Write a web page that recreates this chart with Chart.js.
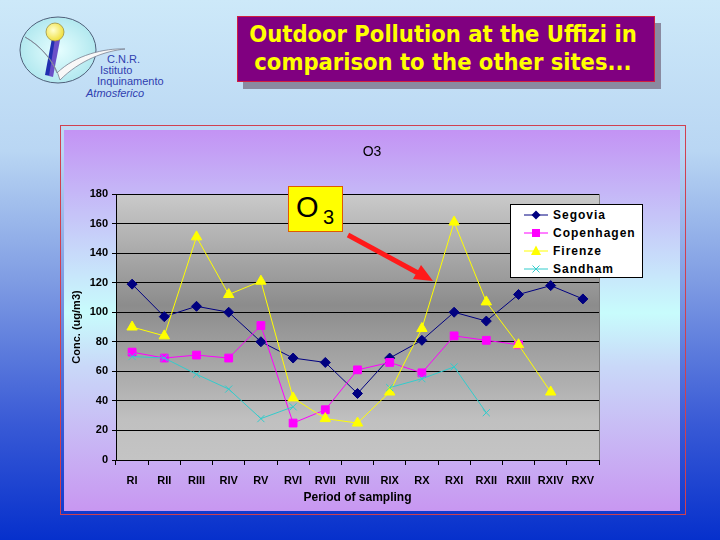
<!DOCTYPE html>
<html lang="en">
<head>
  <meta charset="UTF-8" />
  <title>O3 - Outdoor Pollution</title>
  <script src="https://cdn.jsdelivr.net/npm/chart.js"></script>
  <style>
    html, body { margin: 0; padding: 0; }
    body {
      width: 720px; height: 540px; position: relative; overflow: hidden;
      background: linear-gradient(to bottom, #cde9f9 0%, #b9d6f3 28%, #7f9ce3 52%, #3a5bd6 78%, #0630cc 100%);
      font-family: 'Liberation Sans', Arial, sans-serif;
    }
    #titleShadow { position: absolute; left: 243px; top: 23px; width: 418px; height: 66px; background: #8a8aa0; }
    #titleBox {
      position: absolute; left: 237px; top: 16px; width: 418px; height: 66px; box-sizing: border-box;
      background: #800080; border: 1px solid #d02040; color: #ffff00;
      font-family: 'Comic Sans MS', 'DejaVu Sans Condensed', 'DejaVu Sans', sans-serif;
      font-weight: bold; font-size: 23.5px; line-height: 28px; text-align: center;
      padding-top: 3px; padding-right: 6px; white-space: nowrap;
    }
    #frame { position: absolute; left: 60px; top: 125px; width: 624px; height: 388px; border: 1px solid #d04050; }
    #panel {
      position: absolute; left: 64px; top: 130px; width: 616px; height: 381px;
      background: linear-gradient(to bottom, #c393f4 0%, #c8e6fb 38%, #c8fcfc 48%, #c9d8f8 62%, #c897f1 100%);
    }
    #chart { position: absolute; left: 64px; top: 130px; }
    #callout {
      position: absolute; left: 288px; top: 186px; width: 55px; height: 46px; box-sizing: border-box;
      background: #ffff00; border: 1px solid #e05a00; color: #000;
      font-family: 'Liberation Sans', Arial, sans-serif;
    }
    #callout .o { position: absolute; left: 7px; top: 4px; font-size: 29px; line-height: 32px; }
    #callout .s { position: absolute; left: 34px; top: 19px; font-size: 20px; line-height: 22px; }
    #legend {
      position: absolute; left: 510px; top: 204px; width: 133px; height: 74px; box-sizing: border-box;
      background: #fff; border: 1px solid #000; padding-top: 1px;
    }
    #legend .row { height: 18px; display: flex; align-items: center; }
    #legend svg { margin-left: 13px; margin-right: 5px; }
    #legend span { font-weight: bold; font-size: 12px; letter-spacing: 1px; color: #000; }
    #logo, #arrow { position: absolute; left: 0; top: 0; }
  </style>
</head>
<body>
  <svg id="logo" width="200" height="110">
    <defs>
      <radialGradient id="disc" cx="0.5" cy="0.5" r="0.6">
        <stop offset="0" stop-color="#e6feff" />
        <stop offset="1" stop-color="#a8e4ec" />
      </radialGradient>
      <radialGradient id="sun" cx="0.4" cy="0.4" r="0.6">
        <stop offset="0" stop-color="#ffffd0" />
        <stop offset="1" stop-color="#f0e040" />
      </radialGradient>
    </defs>
    <ellipse cx="58" cy="50" rx="38" ry="33" fill="url(#disc)" stroke="#50607a" stroke-width="1" />
    <path d="M52 38 L58 39 L50 76 L45 75 Z" fill="#2030b0" />
    <path d="M55 39 L60 40 L53 77 L49 76 Z" fill="#6a50c8" />
    <circle cx="55" cy="32" r="9" fill="url(#sun)" stroke="#a09040" stroke-width="0.8" />
    <path d="M25 37 C40 45 52 60 57 73 C75 55 105 48 125 49 C105 51 80 60 60 80 C55 62 42 47 25 37 Z" fill="#f8f8f8" stroke="#7a8090" stroke-width="0.8" />
    <g fill="#3040b0" font-family="'Liberation Sans', Arial, sans-serif" font-size="11">
      <text x="107" y="63">C.N.R.</text>
      <text x="100" y="74">Istituto</text>
      <text x="97" y="85">Inquinamento</text>
      <text x="86" y="97" font-style="italic">Atmosferico</text>
    </g>
  </svg>

  <div id="titleShadow"></div>
  <div id="titleBox">Outdoor Pollution at the Uffizi in<br>comparison to the other sites...</div>

  <div id="frame"></div>
  <div id="panel"></div>
  <canvas id="chart" width="616" height="381"></canvas>

  <div id="callout"><span class="o">O</span><span class="s">3</span></div>
  <svg id="arrow" width="720" height="540">
    <line x1="348" y1="235" x2="418" y2="273" stroke="#ff1a1a" stroke-width="5" />
    <polygon points="433,281 413,279 421,265" fill="#ff1a1a" />
  </svg>

  <div id="legend"></div>

  <script>
    const categories = ['RI', 'RII', 'RIII', 'RIV', 'RV', 'RVI', 'RVII', 'RVIII', 'RIX', 'RX', 'RXI', 'RXII', 'RXIII', 'RXIV', 'RXV'];
    const segovia    = [119, 97, 104, 100, 80, 69, 66, 45, 69, 81, 100, 94, 112, 118, 109];
    const copenhagen = [73, 69, 71, 69, 91, 25, 34, 61, 66, 59, 84, 81, 78, null, null];
    const firenze    = [90, 84, 151, 112, 121, 42, 28, 25, 46, 89, 161, 107, 78, 46, null];
    const sandham    = [70, 69, 58, 48, 28, 36, null, null, 49, 55, 63, 32, null, null, null];
    const yTicks     = [0, 20, 40, 60, 80, 100, 120, 140, 160, 180];

    const FONT = "'Liberation Sans', Arial, sans-serif";

    const series = [
      { label: 'Segovia',    data: segovia,    color: '#000080', style: 'rectRot',  radius: 5,   order: 4 },
      { label: 'Copenhagen', data: copenhagen, color: '#ff00ff', style: 'rect',     radius: 5.5, order: 3 },
      { label: 'Firenze',    data: firenze,    color: '#ffff00', style: 'triangle', radius: 6,   order: 2 },
      { label: 'Sandham',    data: sandham,    color: '#33cccc', style: 'crossRot', radius: 5,   order: 1 }
    ];

    // plot area background (grey gradient) and right border
    const plotBg = {
      id: 'plotBg',
      beforeDraw(chart) {
        const { ctx, chartArea: a } = chart;
        const g = ctx.createLinearGradient(0, a.top, 0, a.bottom);
        g.addColorStop(0, '#cacaca');
        g.addColorStop(0.42, '#8c8c8c');
        g.addColorStop(0.85, '#c0c0c0');
        g.addColorStop(1, '#c4c4c4');
        ctx.save();
        ctx.fillStyle = g;
        ctx.fillRect(a.left, a.top, a.right - a.left, a.bottom - a.top);
        ctx.restore();
      },
      afterDraw(chart) {
        const { ctx, chartArea: a } = chart;
        ctx.save();
        ctx.strokeStyle = '#808080';
        ctx.lineWidth = 1;
        ctx.beginPath();
        ctx.moveTo(a.right + 0.5, a.top);
        ctx.lineTo(a.right + 0.5, a.bottom);
        ctx.stroke();
        ctx.restore();
      }
    };

    new Chart(document.getElementById('chart'), {
      type: 'line',
      data: {
        labels: categories,
        datasets: series.map(s => ({
          label: s.label,
          data: s.data,
          borderColor: s.color,
          backgroundColor: s.color,
          borderWidth: 1,
          pointStyle: s.style,
          pointRadius: s.radius,
          pointBorderColor: s.color,
          pointBackgroundColor: s.color,
          pointBorderWidth: 1,
          tension: 0,
          spanGaps: false,
          order: s.order
        }))
      },
      options: {
        responsive: false,
        animation: false,
        layout: { padding: 0 },
        plugins: {
          legend: { display: false },
          tooltip: { enabled: false },
          title: {
            display: true, text: 'O3', color: '#000',
            font: { family: FONT, size: 14, weight: 'normal' },
            padding: { top: 13.6, bottom: 33.6 }
          }
        },
        scales: {
          x: {
            type: 'category',
            offset: true,
            grid: { offset: true, drawOnChartArea: false, drawTicks: true, tickLength: 5, color: '#000' },
            border: { color: '#000' },
            ticks: { color: '#000', font: { family: FONT, size: 11, weight: 'bold' }, padding: 9, maxRotation: 0, autoSkip: false },
            title: { display: true, text: 'Period of sampling', color: '#000', font: { family: FONT, size: 12, weight: 'bold' }, padding: { top: 0, bottom: 6 } },
            afterFit(s) { s.height = 51; }
          },
          y: {
            min: 0, max: 180,
            afterBuildTicks(s) { s.ticks = yTicks.map(v => ({ value: v })); },
            grid: { color: '#000', tickLength: 4, drawTicks: true },
            border: { color: '#000' },
            ticks: { color: '#000', font: { family: FONT, size: 11, weight: 'bold' }, padding: 4 },
            title: { display: true, text: 'Conc. (ug/m3)', color: '#000', font: { family: FONT, size: 11, weight: 'bold' }, padding: { top: 6, bottom: 0 } },
            afterFit(s) { s.width = 52; }
          },
          // empty right-hand space so the chart title stays centred on the whole panel
          spacer: {
            type: 'linear', position: 'right', display: true,
            grid: { drawOnChartArea: false, drawTicks: false },
            border: { display: false },
            ticks: { display: false },
            afterFit(s) { s.width = 81; }
          }
        }
      },
      plugins: [plotBg]
    });

    // legend box drawn over the plot, as in the original
    function marker(s) {
      const c = s.color;
      switch (s.style) {
        case 'rectRot': return `<polygon points="12,1.5 16.5,6 12,10.5 7.5,6" fill="${c}"/>`;
        case 'rect': return `<rect x="8" y="2" width="8" height="8" fill="${c}"/>`;
        case 'triangle': return `<polygon points="12,0.5 17,10 7,10" fill="${c}"/>`;
        default: return `<path d="M8.5 2.5 L15.5 9.5 M15.5 2.5 L8.5 9.5" stroke="${c}" stroke-width="1"/>`;
      }
    }
    document.getElementById('legend').innerHTML = series.map(s =>
      `<div class="row"><svg width="24" height="12"><line x1="0" y1="6" x2="24" y2="6" stroke="${s.color}" stroke-width="1"/>${marker(s)}</svg><span>${s.label}</span></div>`
    ).join('');
  </script>
</body>
</html>
